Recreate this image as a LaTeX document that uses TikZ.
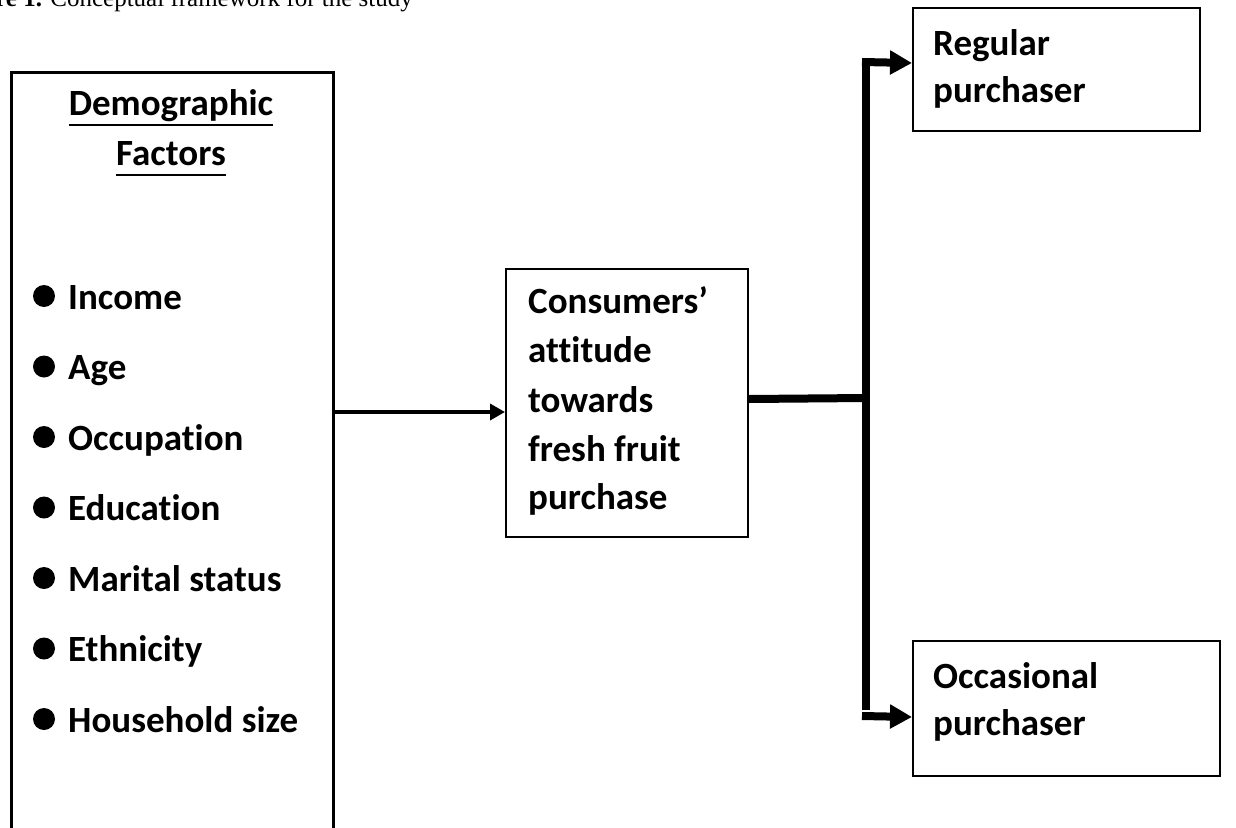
\documentclass[tikz,border=0pt]{standalone}
\usepackage{fontspec}
\setmainfont{Carlito}[Ligatures=NoCommon]
\newfontfamily\capfont{Liberation Serif}
\usetikzlibrary{arrows.meta}
\newcommand\myul[1]{\setbox0\hbox{#1}\rlap{\rule[-11pt]{\wd0}{2.5pt}}\box0}
\begin{document}
\begin{tikzpicture}[x=1pt,y=-1pt,
  box/.style={draw, line width=2pt, rectangle, inner sep=0pt, anchor=north west},
  lbl/.style={anchor=base west, inner sep=0pt, font=\fontsize{37}{37}\selectfont\bfseries},
  ttl/.style={anchor=base, inner sep=0pt, font=\fontsize{37}{37}\selectfont\bfseries},
  thinarrow/.style={line width=3.5pt, -{Triangle[length=15pt,width=16pt]}},
  thickline/.style={line width=8pt},
  thickarrow/.style={line width=8pt, -{Triangle[length=22pt,width=23pt]}}
]
\useasboundingbox (0,0) rectangle (1236,827);

% caption (cut at the top)
\node[anchor=base east, inner sep=0pt, font=\capfont\fontsize{25}{25}\selectfont] (cap) at (413,6) {\textbf{Figure 1.} Conceptual framework for the study};

% boxes
\node[box, line width=2.5pt, minimum width=322pt, minimum height=800pt] (demo) at (10,71) {};
\node[box, minimum width=242pt, minimum height=268pt] (mid) at (505,268) {};
\node[box, minimum width=287pt, minimum height=123pt] (reg) at (912,7) {};
\node[box, minimum width=307pt, minimum height=135pt] (occ) at (912,640) {};

% left box text
\node[ttl] (t1) at (171,115) {\myul{Demographic}};
\node[ttl] (t2) at (171,165) {\myul{Factors}};
\foreach \i/\txt in {0/Income,1/Age,2/Occupation,3/Education,4/Marital status,5/Ethnicity,6/Household size}{
  \fill (44,{296+70.5*\i}) circle (11);
  \node[lbl] (b\i) at (68,{309+70.5*\i}) {\txt};
}

% middle text
\node[lbl] (m1) at (528,313) {Consumers’};
\node[lbl] (m2) at (528,362) {attitude};
\node[lbl] (m3) at (528,412) {towards};
\node[lbl] (m4) at (528,461) {fresh fruit};
\node[lbl] (m5) at (528,509) {purchase};

% right texts
\node[lbl] (r1) at (933,55) {Regular};
\node[lbl] (r2) at (933,102) {purchaser};
\node[lbl] (o1) at (933,688) {Occasional};
\node[lbl] (o2) at (933,735) {purchaser};

% connectors
\draw[thinarrow] (demo.east |- 0,412) -- ([yshift=-9pt]mid.west);
\coordinate (j) at (866,398);
\coordinate (jt) at (866,58);
\coordinate (jb) at (866,710);
\draw[thickline] ([yshift=4pt]mid.east) -- (j);
\draw[thickline] (jt) -- (jb);
\draw[thickarrow] ([xshift=-4pt,yshift=-4pt]jt) -- ([yshift=6.5pt]reg.west);
\draw[thickarrow] ([xshift=-4pt,yshift=-6pt]jb) -- ([yshift=-8.5pt]occ.west);
\end{tikzpicture}
\end{document}
